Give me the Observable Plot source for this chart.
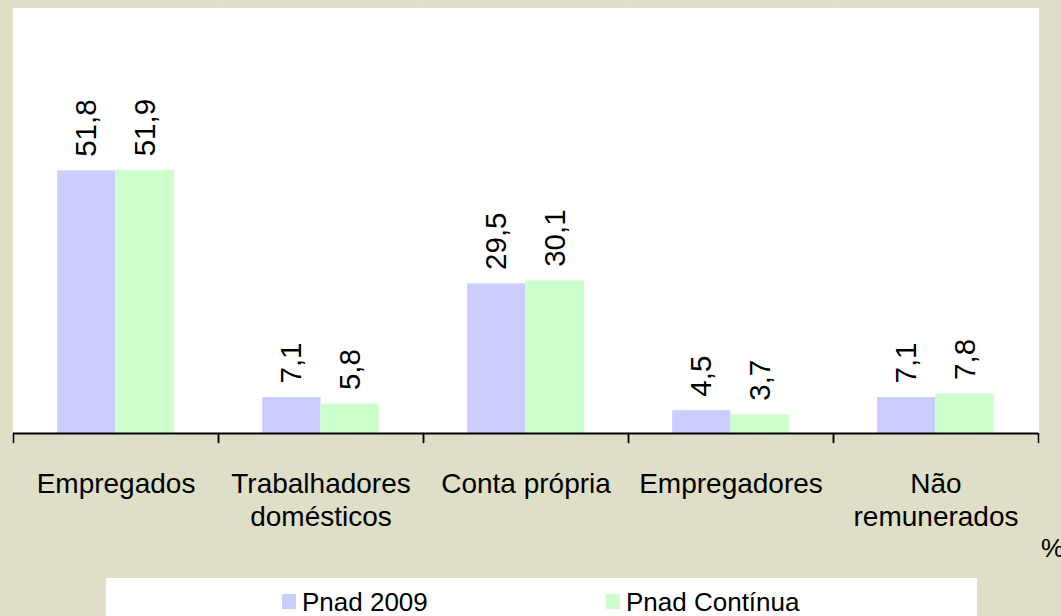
<!DOCTYPE html>
<html><head><meta charset="utf-8">
<script src="https://cdn.jsdelivr.net/npm/d3@7"></script>
<script src="https://cdn.jsdelivr.net/npm/@observablehq/plot@0.6"></script>
<style>
body{margin:0;}
#wrap{position:relative;width:1061px;height:616px;background:#DFDEC7;overflow:hidden;font-family:"Liberation Sans",Arial,sans-serif;color:#000;}
#chart{position:absolute;left:0;top:0;}
#legend{position:absolute;left:106px;top:578px;width:871px;height:60px;background:#fff;}
.item{position:absolute;top:9px;font-size:26px;line-height:30px;white-space:nowrap;}
.sw{display:inline-block;width:14px;height:15px;margin-right:6px;vertical-align:2px;}
#unit{position:absolute;left:1041px;top:533px;font-size:26px;}
</style></head><body><div id="wrap"><div id="chart"></div><div id="legend"></div><div id="unit"></div></div>
<script>
const categories = ["Empregados","Trabalhadores domésticos","Conta própria","Empregadores","Não remunerados"];
const categoryLabels = ["Empregados","Trabalhadores\ndomésticos","Conta própria","Empregadores","Não\nremunerados"];
const series = ["Pnad 2009","Pnad Contínua"];
const seriesColors = ["#CCCCFF","#CCFFCC"];
const pnad2009 = [51.8,7.1,29.5,4.5,7.1];
const pnadContinua = [51.9,5.8,30.1,3.7,7.8];
const unitLabel = "%";

const data = categories.flatMap((c,i)=>[
  {cat:c, series:series[0], value:pnad2009[i]},
  {cat:c, series:series[1], value:pnadContinua[i]}
]);
const fmt = v => v.toFixed(1).replace(".", ",");
const font = "'Liberation Sans', Arial, sans-serif";

// a plain line (no arrowhead) for the category-boundary tick marks
const lineShape = {draw(context, l){ context.moveTo(0, 0); context.lineTo(0, -l); }};

const chart = Plot.plot({
  width:1061, height:575, marginLeft:11, marginRight:21, marginTop:8, marginBottom:142,
  style:{background:"transparent", fontFamily:font, color:"#000"},
  fx:{domain:categories, padding:0, label:null},
  x:{domain:series, paddingInner:0, paddingOuter:0.757, round:false, axis:null},
  y:{domain:[0,83.8], axis:null},
  color:{domain:series, range:seriesColors},
  marks:[
    Plot.frame({fill:"white", stroke:"white", strokeWidth:1.2}),
    Plot.barY(data,{fx:"cat", x:"series", y:"value", fill:"series"}),
    Plot.text(data,{fx:"cat", x:"series", y:"value", text:d=>fmt(d.value), rotate:-90, textAnchor:"start", dy:-14, fontSize:29.5, fill:"black"}),
    Plot.ruleY([0],{stroke:"black", strokeWidth:2}),
    Plot.vector([0],{frameAnchor:"bottom-left", length:9, rotate:180, anchor:"start", shape:lineShape, stroke:"black", strokeWidth:1.5}),
    Plot.vector([0],{frameAnchor:"bottom-right", length:9, rotate:180, anchor:"start", shape:lineShape, stroke:"black", strokeWidth:1.5}),
    Plot.axisFx({anchor:"bottom", tickSize:0, tickPadding:37, fontSize:28, lineHeight:1.15, label:null, fill:"black",
      tickFormat:d=>categoryLabels[categories.indexOf(d)]})
  ]
});
document.getElementById("chart").appendChild(chart);

const legend = document.getElementById("legend");
const legendX = [176, 500];
series.forEach((s,i)=>{
  const it = document.createElement("div");
  it.className = "item";
  it.style.left = legendX[i] + "px";
  it.innerHTML = `<span class="sw" style="background:${seriesColors[i]}"></span>${s}`;
  legend.appendChild(it);
});
document.getElementById("unit").textContent = unitLabel;
</script></body></html>
